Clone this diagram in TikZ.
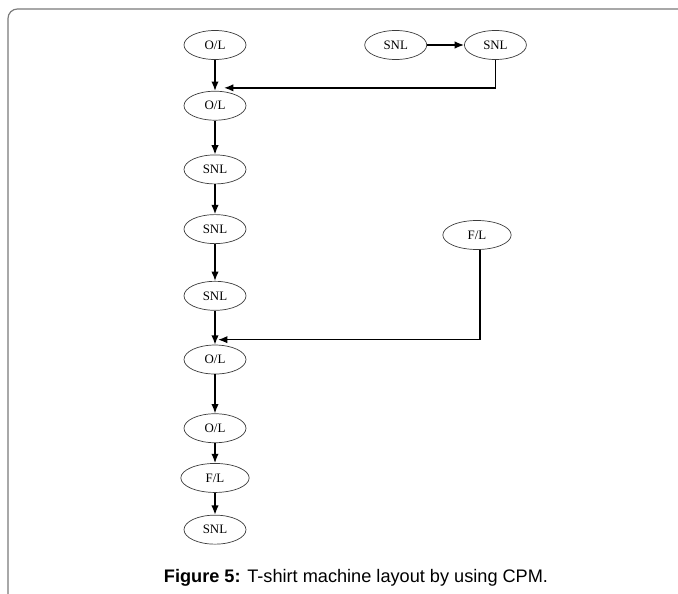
\documentclass[tikz,border=0pt]{standalone}
\usepackage{fontspec}
\usepackage{tikz}
\usetikzlibrary{shapes.geometric, arrows.meta, positioning, calc}
\newfontfamily\capfont{Liberation Sans}
\newfontfamily\lblfont{Liberation Serif}
\definecolor{framegrey}{HTML}{7A7A7A}
\definecolor{ovalgrey}{HTML}{3C3C3C}

\begin{document}
\begin{tikzpicture}[x=0.03cm, y=-0.03cm,
        arrow/.style={-{Latex[length=2.8mm, width=2.2mm]}, line width=1.2pt, black},
        machine/.style={draw=ovalgrey, ellipse, line width=0.6pt, inner sep=0pt, minimum width=1.86cm, minimum height=0.87cm, font=\lblfont\fontsize{11}{12}\selectfont},
        frame/.style={draw=framegrey, line width=1pt, rounded corners=8}
    ]
        \useasboundingbox (0,0) rectangle (678,594);
        \draw [frame] (8,600) -- (8,9) -- (690,9);

        % main line
        \node (ol1) [machine] at (215,45) {O/L};
        \node (ol2) [machine, below=0.93cm of ol1] {O/L};
        \node (snl1) [machine, below=1.02cm of ol2] {SNL};
        \node (snl2) [machine, below=0.9cm of snl1] {SNL};
        \node (snl3) [machine, below=1.11cm of snl2] {SNL};
        \node (ol3) [machine, below=1.02cm of snl3] {O/L};
        \node (ol4) [machine, below=1.17cm of ol3] {O/L};
        \node (fl1) [machine, below=0.6cm of ol4, minimum width=2.05cm] {F/L};
        \node (snl4) [machine, below=0.66cm of fl1] {SNL};

        % side feeds
        \node (snla) [machine, right=3.54cm of ol1] {SNL};
        \node (snlb) [machine, right=1.11cm of snla] {SNL};
        \node (fl2) [machine, minimum width=2.05cm] at (477,235) {F/L};

        \coordinate (join1) at ($(ol2.north)+(9,-3)$);
        \coordinate (join2) at ($(ol3.north)+(3,-5)$);

        \draw [arrow] (ol1) -- (ol2);
        \draw [arrow] (ol2) -- (snl1);
        \draw [arrow] (snl1) -- (snl2);
        \draw [arrow] (snl2) -- (snl3);
        \draw [arrow] (snl3) -- (ol3);
        \draw [arrow] (ol3) -- (ol4);
        \draw [arrow] (ol4) -- (fl1);
        \draw [arrow] (fl1) -- (snl4);
        \draw [arrow] (snla) -- (snlb);
        \draw [arrow] (snlb) |- (join1);
        \draw [arrow] ($(fl2.south)+(3,0)$) |- (join2);

        \node (caption) [font=\capfont\fontsize{15.5}{18}\selectfont] at (356,578) {\textbf{Figure 5:} T-shirt machine layout by using CPM.};
    \end{tikzpicture}
\end{document}
